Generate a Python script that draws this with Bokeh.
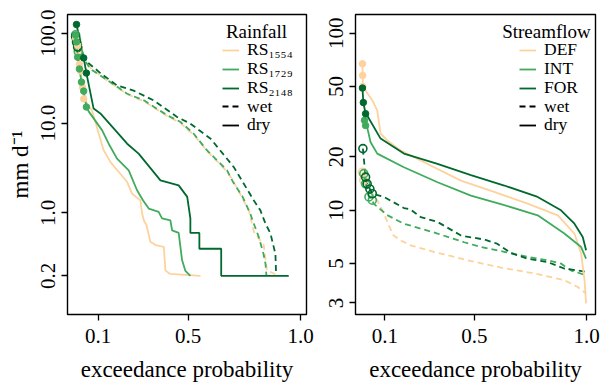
from bokeh.plotting import figure
from bokeh.layouts import row
from bokeh.models import Range1d, FixedTicker, Legend, LegendItem, Label
from bokeh.embed import file_html
from bokeh.resources import INLINE

FONT = "Liberation Serif"
C_LIGHT = "#FDD29C"
C_MID = "#41AB5D"
C_DARK = "#00692F"
NAN = float("nan")

# ---------------- data: Rainfall (left) ----------------
x_ticks = [0.1, 0.5, 1.0]
x_tick_labels = ["0.1", "0.5", "1.0"]
rain_y_ticks = [0.2, 1, 10, 100]
rain_y_tick_labels = ["0.2", "1.0", "10.0", "100.0"]
rain_names = ["RS\u2081\u2085\u2085\u2084", "RS\u2081\u2087\u2082\u2089", "RS\u2082\u2081\u2084\u2088"]

rs1554_dry_p = [0.0, 0.009, 0.017, 0.022, 0.031, 0.036, 0.073, 0.103, 0.125, 0.155, 0.192, 0.229, 0.251, 0.288, 0.295, 0.303, 0.315, 0.332, 0.355, 0.392, 0.399, 0.42, 0.555]
rs1554_dry_v = [88, 73, 45, 38, 25, 18.6, 13.8, 7.6, 4.97, 3.68, 2.86, 2.21, 1.64, 1.38, 1.0, 0.83, 0.73, 0.48, 0.44, 0.42, 0.23, 0.21, 0.2]
rs1729_dry_p = [0.0, 0.004, 0.009, 0.017, 0.026, 0.036, 0.048, 0.058, 0.118, 0.147, 0.184, 0.236, 0.273, 0.3, 0.325, 0.369, 0.384, 0.421, 0.429, 0.458, 0.473, 0.488, 0.51]
rs1729_dry_v = [95, 80, 54, 40, 28.6, 22.7, 15.1, 13.5, 8.3, 5.9, 4.03, 2.98, 1.79, 1.38, 1.12, 1.03, 0.87, 0.83, 0.64, 0.6, 0.3, 0.227, 0.2]
rs2148_dry_p = [0.004, 0.036, 0.048, 0.08, 0.11, 0.177, 0.229, 0.28, 0.377, 0.458, 0.496, 0.51, 0.51, 0.55, 0.55, 0.647, 0.647, 0.947]
rs2148_dry_v = [125, 53, 36, 14.5, 12.8, 8.3, 5.9, 4.57, 2.31, 2.03, 1.51, 0.87, 0.6, 0.6, 0.4, 0.4, 0.2, 0.2]

rs1554_wet_p = [0.0, 0.006, 0.011, 0.04, 0.07, 0.155, 0.229, 0.303, 0.407, 0.466, 0.525, 0.584, 0.673, 0.703, 0.77, 0.792, 0.836, 0.85, 0.903]
rs1554_wet_v = [90, 78, 65, 52, 40, 28, 21, 17.5, 12, 10, 7.4, 4.9, 2.9, 2.2, 1.07, 0.62, 0.44, 0.23, 0.2]
rs1729_wet_p = [0.0, 0.004, 0.008, 0.012, 0.04, 0.066, 0.155, 0.229, 0.303, 0.407, 0.466, 0.525, 0.584, 0.673, 0.70, 0.74, 0.775, 0.792, 0.814, 0.835, 0.844, 0.848]
rs1729_wet_v = [96, 85, 75, 62, 50, 40, 28.5, 21.2, 17.9, 12.2, 10.3, 7.6, 4.97, 2.98, 2.2, 1.55, 1.0, 0.76, 0.54, 0.35, 0.27, 0.2]
rs2148_wet_p = [0.0, 0.004, 0.009, 0.044, 0.11, 0.184, 0.258, 0.346, 0.451, 0.51, 0.60, 0.703, 0.792, 0.821, 0.844, 0.866, 0.888, 0.891]
rs2148_wet_v = [92, 80, 70, 49.6, 36, 26.2, 23, 17.9, 11.7, 9.85, 6.7, 3.24, 1.38, 1.07, 0.76, 0.59, 0.35, 0.2]

# number of leading (largest) values drawn as points
rain_dry_npts = [6, 7, 3]
rain_wet_npts = [3, 4, 3]

# ---------------- data: Streamflow (right) ----------------
flow_y_ticks = [3, 5, 10, 20, 50, 100]
flow_y_tick_labels = ["3", "5", "10", "20", "50", "100"]
flow_names = ["DEF", "INT", "FOR"]

def_dry_p = [0.0, 0.001, 0.002, 0.044, 0.066, 0.081, 0.111, 0.170, 0.260, 0.439, 0.588, 0.737, 0.872, 0.946, 0.976, 0.991, 0.998]
def_dry_v = [67.2, 57.7, 50, 41.7, 36.7, 27.1, 24.8, 21.8, 19.1, 14.7, 12.7, 10.9, 9.37, 7.39, 5.7, 4.03, 2.98]
int_dry_p = [0.009, 0.014, 0.021, 0.036, 0.066, 0.185, 0.335, 0.484, 0.633, 0.782, 0.901, 0.976, 0.998]
int_dry_v = [32.2, 30.1, 29.5, 24.3, 20.9, 17.5, 14.4, 12.1, 10.7, 9.37, 7.39, 6.2, 5.33]
for_dry_p = [0.0, 0.004, 0.014, 0.021, 0.081, 0.185, 0.335, 0.484, 0.633, 0.782, 0.886, 0.946, 0.983, 0.998]
for_dry_v = [49, 40.6, 35.1, 34.3, 25.4, 20.9, 18.3, 15.8, 13.8, 11.9, 10.0, 8.4, 7.07, 5.95]

def_wet_p = [0.0, 0.006, 0.023, 0.066, 0.096, 0.118, 0.139, 0.170, 0.215, 0.319, 0.469, 0.618, 0.767, 0.901, 0.961, 0.998]
def_wet_v = [16.4, 14.8, 13.6, 11.4, 9.6, 8.2, 7.2, 6.77, 6.34, 5.83, 5.22, 4.75, 4.4, 4.03, 3.69, 3.39]
int_wet_p = [0.006, 0.014, 0.029, 0.044, 0.05, 0.11, 0.185, 0.26, 0.335, 0.454, 0.529, 0.633, 0.737, 0.827, 0.886, 0.93, 0.998]
int_wet_v = [16.1, 14.1, 11.9, 11.4, 10.9, 9.4, 8.4, 7.88, 7.39, 6.6, 6.2, 5.83, 5.46, 5.22, 5.0, 4.58, 4.3]
for_wet_p = [0.002, 0.014, 0.021, 0.033, 0.044, 0.096, 0.185, 0.215, 0.26, 0.335, 0.44, 0.545, 0.60, 0.663, 0.737, 0.827, 0.90, 0.998]
for_wet_v = [22.3, 15.4, 14.1, 13.2, 12.4, 11.9, 10.3, 10.1, 9.15, 8.6, 7.2, 6.83, 6.49, 5.74, 5.33, 5.1, 4.69, 4.5]

flow_dry_npts = [3, 2, 3]
flow_wet_npts = [2, 4, 5]

COLORS = [C_LIGHT, C_MID, C_DARK]
FRAME_TOP = 14
FRAME_H = 300
LW = 1.8
DASH = "6 4"


def style(p, yticks, ylabels):
    p.xaxis.ticker = FixedTicker(ticks=x_ticks, minor_ticks=[])
    p.xaxis.major_label_overrides = dict(zip(x_ticks, x_tick_labels))
    p.yaxis.ticker = FixedTicker(ticks=yticks, minor_ticks=[])
    p.yaxis.major_label_overrides = dict(zip(yticks, ylabels))
    p.yaxis.major_label_orientation = "vertical"
    for ax in (p.xaxis[0], p.yaxis[0]):
        ax.axis_line_color = None
        ax.major_tick_line_color = "black"
        ax.major_tick_line_width = 1.3
        ax.major_tick_in = 0
        ax.major_tick_out = 6
        ax.minor_tick_line_color = None
        ax.major_label_text_font = FONT
        ax.major_label_text_font_size = "21px"
        ax.major_label_text_color = "black"
        ax.axis_label_text_font = FONT
        ax.axis_label_text_font_size = "23px"
        ax.axis_label_text_font_style = "normal"
        ax.axis_label_text_color = "black"
    p.xaxis.major_label_standoff = 8
    p.yaxis.major_label_standoff = 6
    p.xaxis.axis_label_standoff = 11
    p.yaxis.axis_label_standoff = 6
    p.xgrid.visible = False
    p.ygrid.visible = False
    p.outline_line_color = "black"
    p.outline_line_width = 1.4
    p.outline_line_alpha = 1.0
    p.background_fill_color = "white"
    p.border_fill_color = "white"


def draw_series(p, dry, wet, dry_n, wet_n):
    for (xs, ys), c in zip(wet, COLORS):
        p.line(xs, ys, line_color=c, line_width=LW, line_dash=DASH)
    for (xs, ys), c in zip(dry, COLORS):
        p.line(xs, ys, line_color=c, line_width=LW)
    for (xs, ys), c, n in zip(wet, COLORS, wet_n):
        p.scatter(xs[:n], ys[:n], marker="circle", size=8, fill_color=None,
                  line_color=c, line_width=1.6)
    for (xs, ys), c, n in zip(dry, COLORS, dry_n):
        p.scatter(xs[:n], ys[:n], marker="circle", size=6.5, fill_color=c,
                  line_color=c, line_width=1)


def add_legend(p, names, title, x_glyph, title_cx):
    item_h = 18
    centers = [51, 70, 89, 107.5, 126]
    rends = []
    for c in COLORS:
        rends.append(p.line([NAN, NAN], [NAN, NAN], line_color=c, line_width=LW))
    rends.append(p.line([NAN, NAN], [NAN, NAN], line_color="black", line_width=LW, line_dash=DASH))
    rends.append(p.line([NAN, NAN], [NAN, NAN], line_color="black", line_width=LW))
    labels = list(names) + ["wet", "dry"]
    for r, lab, cy in zip(rends, labels, centers):
        vy = (FRAME_TOP + FRAME_H - cy) - item_h / 2
        lg = Legend(items=[LegendItem(label=lab, renderers=[r])], location=(x_glyph, vy),
                    background_fill_alpha=0, border_line_color=None, padding=0, margin=0,
                    spacing=0, glyph_width=17, glyph_height=item_h, label_standoff=8,
                    label_text_font=FONT, label_text_font_size="17.5px", label_height=item_h,
                    label_text_color="black", label_text_line_height=1.0)
        p.add_layout(lg, "center")
    p.add_layout(Label(x=title_cx, y=FRAME_TOP + FRAME_H - 31, x_units="screen", y_units="screen",
                       text=title, text_align="center", text_baseline="middle",
                       text_font=FONT, text_font_size="19px", text_color="black"))


# ---------------- left panel ----------------
p1 = figure(frame_width=239, frame_height=FRAME_H, y_axis_type="log",
            x_range=Range1d(-0.036, 1.026), y_range=Range1d(0.0743, 161.4),
            output_backend="svg", toolbar_location=None,
            min_border_left=67, min_border_right=10, min_border_top=FRAME_TOP, min_border_bottom=74)
style(p1, rain_y_ticks, rain_y_tick_labels)
p1.xaxis.axis_label = "exceedance probability"
p1.yaxis.axis_label = "mm d\u207b\u00b9"
draw_series(p1,
            [(rs1554_dry_p, rs1554_dry_v), (rs1729_dry_p, rs1729_dry_v), (rs2148_dry_p, rs2148_dry_v)],
            [(rs1554_wet_p, rs1554_wet_v), (rs1729_wet_p, rs1729_wet_v), (rs2148_wet_p, rs2148_wet_v)],
            rain_dry_npts, rain_wet_npts)
add_legend(p1, rain_names, "Rainfall", 155, 189)

# ---------------- right panel ----------------
p2 = figure(frame_width=240, frame_height=FRAME_H, y_axis_type="log",
            x_range=Range1d(-0.031, 1.04), y_range=Range1d(2.58, 127.5),
            output_backend="svg", toolbar_location=None,
            min_border_left=39, min_border_right=7, min_border_top=FRAME_TOP, min_border_bottom=74)
style(p2, flow_y_ticks, flow_y_tick_labels)
p2.xaxis.axis_label = "exceedance probability"
draw_series(p2,
            [(def_dry_p, def_dry_v), (int_dry_p, int_dry_v), (for_dry_p, for_dry_v)],
            [(def_wet_p, def_wet_v), (int_wet_p, int_wet_v), (for_wet_p, for_wet_v)],
            flow_dry_npts, flow_wet_npts)
add_legend(p2, flow_names, "Streamflow", 164, 191)

layout = row(p1, p2)
open("out.html", "w").write(file_html(layout, INLINE))
